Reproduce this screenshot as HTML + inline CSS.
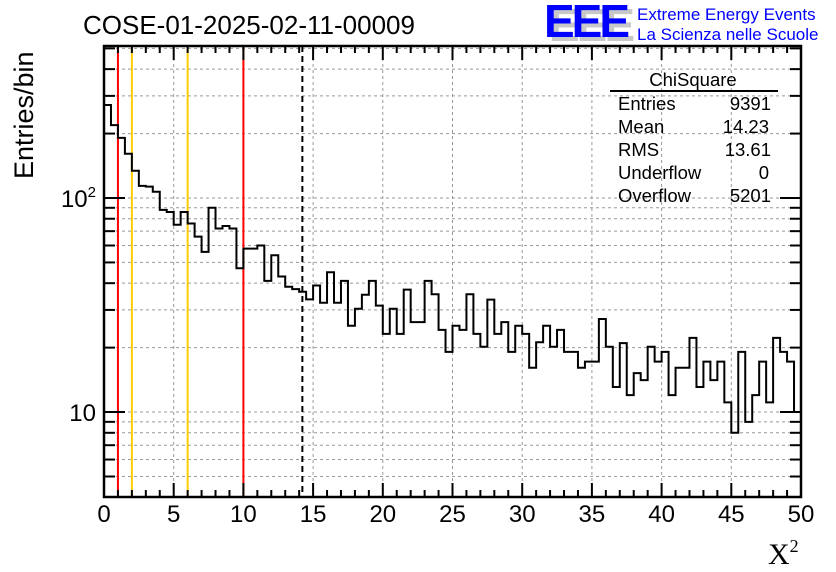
<!DOCTYPE html>
<html><head><meta charset="utf-8"><style>
body{margin:0;background:#fff}
svg{display:block;font-family:"Liberation Sans",sans-serif}
</style></head><body>
<svg id="c" width="836" height="572" viewBox="0 0 836 572">
<text x="83" y="34" font-size="26" fill="#000">COSE-01-2025-02-11-00009</text>
<g>
<text x="549" y="41" font-size="46" font-weight="bold" fill="#c8c8c8" letter-spacing="-3">EEE</text>
<text x="544" y="37" font-size="46" font-weight="bold" fill="#0000ff" letter-spacing="-3">EEE</text>
<text x="637" y="20" font-size="17" fill="#0000ff">Extreme Energy Events</text>
<text x="637" y="40" font-size="17" fill="#0000ff">La Scienza nelle Scuole</text>
</g>
<g id="grid"></g>
<g id="marks"></g>
<g id="axes"></g>
<g font-size="18.5" fill="#000">
<text x="693" y="86" text-anchor="middle">ChiSquare</text>
<line x1="610" y1="91" x2="778" y2="91" stroke="#000" stroke-width="2"/>
<text x="618" y="110">Entries</text><text x="771" y="110" text-anchor="end">9391</text>
<text x="618" y="133">Mean</text><text x="769" y="133" text-anchor="end">14.23</text>
<text x="618" y="156">RMS</text><text x="771" y="156" text-anchor="end">13.61</text>
<text x="618" y="179">Underflow</text><text x="769" y="179" text-anchor="end">0</text>
<text x="618" y="202">Overflow</text><text x="771" y="202" text-anchor="end">5201</text>
</g>
<text transform="translate(33,179) rotate(-90)" font-size="27" fill="#000">Entries/bin</text>
<text x="768" y="564" font-size="30" font-family="Liberation Serif,serif" fill="#000">X<tspan font-size="18" dy="-12">2</tspan></text>
</svg>
<script>
const binCounts=[272,219,191,161,134,114,113,107,88,86,75,86,76,66,56,90,72,74,72,47,58,58,60,41,54,43,38.5,37.5,36.5,33.6,39,32.4,45,32.4,41,25.3,30.4,35.3,41,31.4,23.2,30.4,23.2,37.3,26.3,26.3,41,35.5,24.2,19.1,25.3,24.2,35.5,23.2,20.2,33.5,23.2,26.3,19.1,25.3,23.2,16.1,21.2,25.3,20.2,24.2,19.1,19.1,16.1,17.2,17.2,27.2,20.2,13.1,21,12,15.2,14.1,20.2,17.2,19.1,12,16.1,16.1,22.2,13.1,17.2,14.1,17.2,11.1,8,19.1,9,12,17.2,11.1,22.2,19.1,17.2,10];
const binWidth=0.5;
const xTicks=[0,5,10,15,20,25,30,35,40,45,50];
const yMajor=[10,100];
const yMinor=[5,6,7,8,9,20,30,40,50,60,70,80,90,200,300,400,500];
const redLines=[1,10];
const goldLines=[2,6];
const meanValue=[14.23];
const X0=104,X1=801,Y0=497,Y1=46,XMIN=0,XMAX=50,YMIN=4.01,YMAX=513;
const xs=v=>X0+(v-XMIN)/(XMAX-XMIN)*(X1-X0);
const ys=v=>Y0-(Math.log10(v)-Math.log10(YMIN))/(Math.log10(YMAX)-Math.log10(YMIN))*(Y0-Y1);
const NS='http://www.w3.org/2000/svg';
function mk(p,t,a){const e=document.createElementNS(NS,t);for(const k in a)e.setAttribute(k,a[k]);p.appendChild(e);return e;}
const grid=document.getElementById('grid'),marks=document.getElementById('marks'),axes=document.getElementById('axes');
xTicks.slice(1,-1).forEach(v=>{const l=mk(grid,'line',{x1:xs(v),x2:xs(v),y1:Y1,y2:Y0,stroke:'#999','stroke-width':1,'stroke-dasharray':'3,3'});

});
yMajor.concat(yMinor).forEach(v=>{const l=mk(grid,'line',{x1:X0,x2:X1,y1:ys(v),y2:ys(v),stroke:'#999','stroke-width':1,'stroke-dasharray':'3,3'});

});
redLines.forEach(v=>{const l=mk(marks,'line',{x1:xs(v),x2:xs(v),y1:Y1,y2:Y0,stroke:'#ff0000','stroke-width':2});

});
goldLines.forEach(v=>{const l=mk(marks,'line',{x1:xs(v),x2:xs(v),y1:Y1,y2:Y0,stroke:'#ffcc00','stroke-width':2});

});
meanValue.forEach(v=>{const l=mk(marks,'line',{x1:xs(v),x2:xs(v),y1:Y1,y2:Y0,stroke:'#000','stroke-width':2,'stroke-dasharray':'6,4'});

});
let d='M'+xs(0)+','+ys(binCounts[0]);
binCounts.forEach((c,i)=>{const y=ys(c);d+=' L'+xs(i*binWidth)+','+y+' L'+xs((i+1)*binWidth)+','+y;});
const h=mk(marks,'path',{d:d,fill:'none',stroke:'#000','stroke-width':2});


const fr=mk(axes,'rect',{x:X0,y:Y1,width:X1-X0,height:Y0-Y1,fill:'none',stroke:'#000','stroke-width':2.5});


for(let v=0;v<=50;v++){const maj=v%5===0;const L=maj?14:7;const x=xs(v);
mk(axes,'line',{x1:x,x2:x,y1:Y0,y2:Y0-L,stroke:'#000','stroke-width':2});
mk(axes,'line',{x1:x,x2:x,y1:Y1,y2:Y1+L,stroke:'#000','stroke-width':2});}
xTicks.forEach(v=>{const t=mk(axes,'text',{x:xs(v),y:522,'font-size':24,'text-anchor':'middle',fill:'#000'});t.textContent=v;

});
yMajor.concat(yMinor).forEach(v=>{const maj=yMajor.includes(v);const L=maj?21:11;const y=ys(v);
mk(axes,'line',{x1:X0,x2:X0+L,y1:y,y2:y,stroke:'#000','stroke-width':2});
mk(axes,'line',{x1:X1,x2:X1-L,y1:y,y2:y,stroke:'#000','stroke-width':2});});
yMajor.forEach(v=>{const t=mk(axes,'text',{x:96,y:ys(v)+9,'font-size':24,'text-anchor':'end',fill:'#000'});
t.textContent='10';
if(v===100){const s=document.createElementNS(NS,'tspan');s.setAttribute('font-size','15');s.setAttribute('dy','-10');s.textContent='2';t.appendChild(s);}

});
</script>
</body></html>
